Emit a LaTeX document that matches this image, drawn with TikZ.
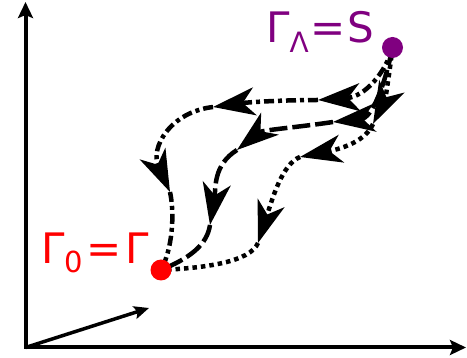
\documentclass[tikz,border=0pt]{standalone}
\usepackage{fontspec}
\newfontfamily\dvsans{DejaVu Sans}
\usetikzlibrary{arrows.meta}
\definecolor{endpurple}{HTML}{800080}
\definecolor{startred}{HTML}{FF0000}
\begin{document}
\begin{tikzpicture}[x=1pt,y=-1pt,
  pathline/.style={line width=4.5pt},
  dashdotline/.style={pathline, dash pattern=on 10pt off 4pt on 4pt off 4pt},
  longdashline/.style={pathline, dash pattern=on 18pt off 5pt},
  dotline/.style={pathline, dash pattern=on 4.5pt off 4pt},
  midtip/.style={-{Stealth[length=42pt,width=28pt,inset=12pt]}},
  axisline/.style={line width=4pt, line join=miter},
  dotnode/.style={circle, minimum size=21pt, inner sep=0pt},
  labeltext/.style={anchor=base west, inner sep=0pt, font=\dvsans\fontsize{42}{42}\selectfont}
]
\useasboundingbox (0,0) rectangle (467,358);

% axes
\coordinate (O) at (25.5,347.5);
\coordinate (Ytip) at (25.5,2);
\coordinate (Xtip) at (466,347.5);
\coordinate (Ztip) at (149,308);
\draw[axisline, {Stealth[length=16pt,width=15pt,inset=3pt]}-{Stealth[length=16pt,width=15pt,inset=3pt]}] (Ytip) -- (O) -- (Xtip);
\draw[line width=3.5pt, -{Stealth[length=15pt,width=13pt,inset=3pt]}] (O) -- (Ztip);

% end points
\coordinate (s) at (392.5,47.5);
\coordinate (g) at (161,270);

% dash-dot path
\coordinate (a1) at (318,100);
\coordinate (a2) at (213,107);
\coordinate (a3) at (170,192);
\draw[dashdotline, midtip] (s) .. controls (386,72) and (365,97) .. (a1);
\draw[dashdotline, midtip] (a1) .. controls (285,100) and (250,102) .. (a2);
\draw[dashdotline, midtip] (a2) .. controls (170,112) and (150,148) .. (a3);
\draw[dashdotline] (a3) .. controls (175,215) and (172,250) .. (g);

% long dash path
\coordinate (b1) at (333,122);
\coordinate (b2) at (237,150);
\coordinate (b3) at (210,225);
\draw[longdashline, midtip] (s) .. controls (385,85) and (372,118) .. (b1);
\draw[longdashline, midtip] (b1) .. controls (300,127) and (262,130) .. (b2);
\draw[longdashline, midtip] (b2) .. controls (213,165) and (216,188) .. (b3);
\draw[longdashline] (b3) .. controls (207,245) and (190,258) .. (g);

% dotted path
\coordinate (c1) at (373,124);
\coordinate (c2) at (300,157);
\coordinate (c3) at (258,243);
\draw[dotline, midtip] (s) .. controls (390,70) and (385,100) .. (c1);
\draw[dotline, midtip] (c1) .. controls (366,140) and (345,148) .. (c2);
\draw[dotline, midtip] (c2) .. controls (282,164) and (272,200) .. (c3);
\draw[dotline] (c3) .. controls (250,262) and (205,268) .. (g);

% dots
\node[dotnode, fill=endpurple] (S) at (s) {};
\node[dotnode, fill=startred] (G) at (g) {};

% labels
\node[labeltext, text=endpurple] (LS) at (266,43) {Γ\raisebox{-10pt}{\fontsize{28}{28}\selectfont Λ}\kern2pt=\kern2pt S};
\node[labeltext, text=startred] (LG) at (41,264) {Γ\raisebox{-9pt}{\fontsize{29}{29}\selectfont 0}\kern3pt=\kern4pt Γ};
\end{tikzpicture}
\end{document}
